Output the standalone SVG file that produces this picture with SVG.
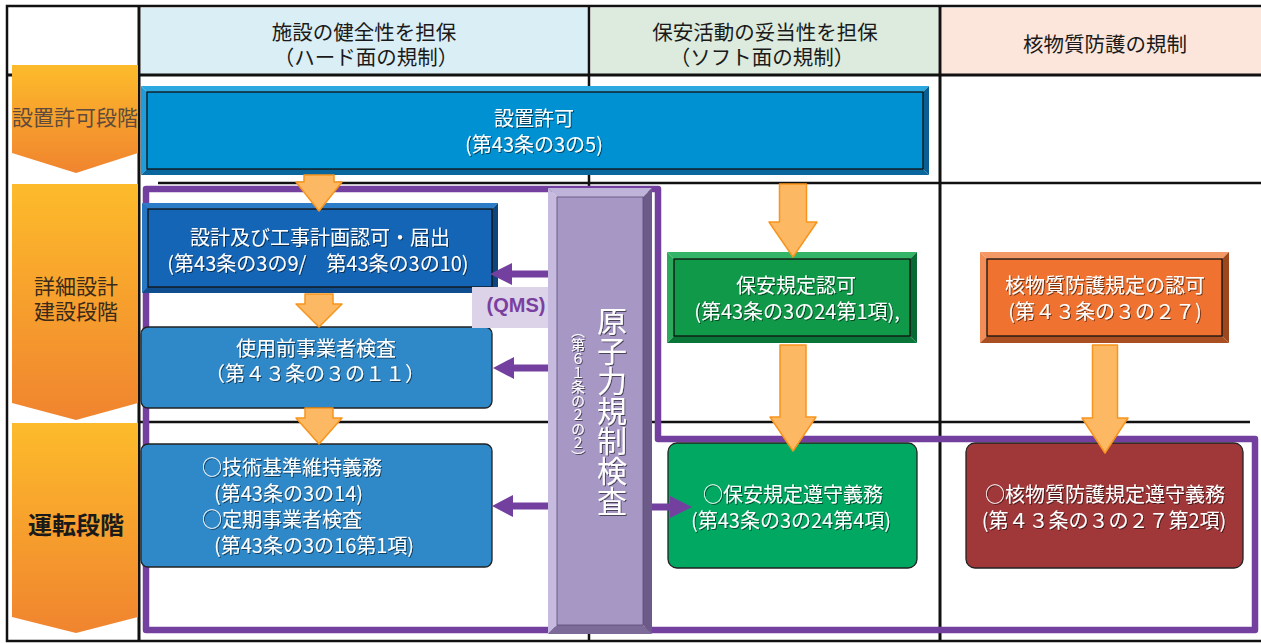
<svg xmlns="http://www.w3.org/2000/svg" width="1261" height="643" viewBox="0 0 1261 643">
<defs>
<style>
.t{font-family:"Noto Sans CJK JP","Noto Sans CJK SC",sans-serif;}
.hdr{font-size:20.5px;fill:#1a1a1a;text-anchor:middle;}
.bt{font-size:20px;fill:#ffffff;text-anchor:middle;filter:url(#sh);}
.btl{font-size:20px;fill:#ffffff;filter:url(#sh);}
.grid{stroke:#111;fill:none;}
.oarr{fill:#FDB863;stroke:#F7941D;stroke-width:1.5;stroke-linejoin:round;}
.parr{fill:#7440A0;}
.inner{stroke:#111;stroke-width:1.3;}
</style>
<linearGradient id="og" x1="0" y1="0" x2="0" y2="1">
<stop offset="0" stop-color="#FDBB2B"/>
<stop offset="1" stop-color="#F0842F"/>
</linearGradient>
<filter id="sh" x="-10%" y="-30%" width="120%" height="160%">
<feDropShadow dx="1" dy="1" stdDeviation="0.6" flood-color="#000" flood-opacity="0.55"/>
</filter>
</defs>
<rect x="0" y="0" width="1261" height="643" fill="#ffffff"/>

<g id="grid">
<rect x="141" y="8" width="447" height="66" fill="#DAEEF5"/>
<rect x="591" y="8" width="347" height="66" fill="#DCEBDD"/>
<rect x="942" y="8" width="319" height="66" fill="#FCE6DC"/>
<rect x="7" y="6" width="1260" height="635" class="grid" stroke-width="2.5"/>
<line x1="7" y1="75" x2="1261" y2="75" class="grid" stroke-width="3"/>
<line x1="139" y1="6" x2="139" y2="641" class="grid" stroke-width="3"/>
<line x1="589" y1="6" x2="589" y2="641" class="grid" stroke-width="2.5"/>
<line x1="940" y1="6" x2="940" y2="641" class="grid" stroke-width="3"/>
<line x1="158" y1="183" x2="1261" y2="183" class="grid" stroke-width="2.5"/>
<line x1="140" y1="422" x2="1250" y2="422" class="grid" stroke-width="2.5"/>
</g>

<g id="headers" class="t">
<text class="hdr"><tspan x="364" y="40">施設の健全性を担保</tspan><tspan x="366" y="65">（ハード面の規制）</tspan></text>
<text class="hdr"><tspan x="765" y="40">保安活動の妥当性を担保</tspan><tspan x="762" y="65">（ソフト面の規制）</tspan></text>
<text class="hdr" x="1105" y="52">核物質防護の規制</text>
</g>

<g id="purple-frame">
<path d="M146,189 H658 V439 H1255 V630 H146 Z" fill="none" stroke="#7440A0" stroke-width="6.5" stroke-linejoin="round"/>
</g>

<g id="stage-1">
<polygon points="12,65 138,65 138,153 76,173 12,153" fill="url(#og)"/>
<text class="t" x="75" y="125" font-size="21" fill="#5E4B3C" text-anchor="middle">設置許可段階</text>
</g>
<g id="stage-2">
<polygon points="12,184 138,184 138,403 76,420 12,403" fill="url(#og)"/>
<text class="t" font-size="21" fill="#3A2A1A" text-anchor="middle"><tspan x="76" y="294">詳細設計</tspan><tspan x="76" y="319">建設段階</tspan></text>
</g>
<g id="stage-3">
<polygon points="12,423 138,423 138,617 76,633 12,617" fill="url(#og)"/>
<text class="t" x="76" y="534" font-size="24" font-weight="bold" fill="#1a1a1a" text-anchor="middle">運転段階</text>
</g>

<g id="node-setchi">
<polygon points="141,86 929,86 923,92 147,92" fill="#2CA8E0"/>
<polygon points="141,86 147,92 147,169 141,175" fill="#1E9DDA"/>
<polygon points="929,86 929,175 923,169 923,92" fill="#0A5E91"/>
<polygon points="141,175 929,175 923,169 147,169" fill="#0A679E"/>
<rect x="147" y="92" width="776" height="77" fill="#0091D3" class="inner"/>
<text class="t bt"><tspan x="534" y="126">設置許可</tspan><tspan x="534" y="152">(第43条の3の5)</tspan></text>
</g>

<g id="node-sekkei">
<polygon points="142,203 498,203 492,209 148,209" fill="#2C7CC8"/>
<polygon points="142,203 148,209 148,287 142,293" fill="#2676C2"/>
<polygon points="498,203 498,293 492,287 492,209" fill="#0D457F"/>
<polygon points="142,293 498,293 492,287 148,287" fill="#0F4D8E"/>
<rect x="148" y="209" width="344" height="78" fill="#1565B6" class="inner"/>
<text class="t bt"><tspan x="320" y="245">設計及び工事計画認可・届出</tspan><tspan x="318" y="271">(第43条の3の9/　第43条の3の10)</tspan></text>
</g>

<g id="node-shiyomae">
<rect x="141" y="327" width="351" height="81" rx="7" fill="#2F89C9" stroke="#222" stroke-width="1.3"/>
<text class="t bt"><tspan x="316" y="356">使用前事業者検査</tspan><tspan x="315" y="381">（第４３条の３の１１）</tspan></text>
</g>

<g id="node-gijutsu">
<rect x="141" y="444" width="351" height="123" rx="7" fill="#2F89C9" stroke="#222" stroke-width="1.3"/>
<text class="t btl"><tspan x="202" y="475">○技術基準維持義務</tspan><tspan x="214" y="501">(第43条の3の14)</tspan><tspan x="202" y="527">○定期事業者検査</tspan><tspan x="214" y="553">(第43条の3の16第1項)</tspan></text>
</g>

<g id="node-hoan-ninka">
<polygon points="667,252 917,252 910,259 674,259" fill="#34B466"/>
<polygon points="667,252 674,259 674,336 667,343" fill="#2CA95C"/>
<polygon points="917,252 917,343 910,336 910,259" fill="#086A32"/>
<polygon points="667,343 917,343 910,336 674,336" fill="#0A7538"/>
<rect x="674" y="259" width="236" height="77" fill="#0F9949" class="inner"/>
<text class="t bt"><tspan x="796" y="293">保安規定認可</tspan><tspan x="797" y="319">(第43条の3の24第1項),</tspan></text>
</g>

<g id="node-kaku-ninka">
<polygon points="980,252 1229,252 1222,259 987,259" fill="#F49866"/>
<polygon points="980,252 987,259 987,336 980,343" fill="#F28D57"/>
<polygon points="1229,252 1229,343 1222,336 1222,259" fill="#9C471C"/>
<polygon points="980,343 1229,343 1222,336 987,336" fill="#A94F22"/>
<rect x="987" y="259" width="235" height="77" fill="#F07230" class="inner"/>
<text class="t bt"><tspan x="1105" y="293">核物質防護規定の認可</tspan><tspan x="1105" y="319">(第４３条の３の２７)</tspan></text>
</g>

<g id="node-hoan-junshu">
<rect x="668" y="443" width="249" height="125" rx="9" fill="#00A862" stroke="#222" stroke-width="1.3"/>
<text class="t bt"><tspan x="793" y="502">○保安規定遵守義務</tspan><tspan x="791" y="528">(第43条の3の24第4項)</tspan></text>
</g>

<g id="node-kaku-junshu">
<rect x="966" y="443" width="277" height="125" rx="9" fill="#A0383A" stroke="#222" stroke-width="1.3"/>
<text class="t bt"><tspan x="1105" y="502">○核物質防護規定遵守義務</tspan><tspan x="1104" y="528">(第４３条の３の２７第2項)</tspan></text>
</g>

<g id="qms">
<rect x="472" y="287" width="81" height="41" fill="#DCD3E8"/>
<text x="516" y="312" font-family="Liberation Sans, Noto Sans CJK JP, sans-serif" font-size="20" font-weight="bold" fill="#7A3FA0" text-anchor="middle">(QMS)</text>
</g>

<g id="connectors">
<polygon class="parr" points="553,270.5 512,270.5 512,263 490,274 512,285 512,277.5 553,277.5"/>
<polygon class="parr" points="553,364.5 514,364.5 514,357 493,368 514,379 514,371.5 553,371.5"/>
<polygon class="parr" points="553,502.5 513,502.5 513,495 492,506 513,517 513,509.5 553,509.5"/>
<polygon class="parr" points="648,503.5 670,503.5 670,496 692,507 670,518 670,510.5 648,510.5"/>
<polygon class="oarr" points="304,175 334,175 334,182 342,182 319,211 296,182 304,182"/>
<polygon class="oarr" points="305,294 333,294 333,304 342,304 319,327 296,304 305,304"/>
<polygon class="oarr" points="305,408 333,408 333,418 342,418 319,444 296,418 305,418"/>
<polygon class="oarr" points="779.5,184 806.5,184 806.5,222 817,222 793,257 769,222 779.5,222"/>
<polygon class="oarr" points="780,345 806,345 806,417 816,417 793,451 770,417 780,417"/>
<polygon class="oarr" points="1092.5,345 1117.5,345 1117.5,418 1128,418 1105,453 1082,418 1092.5,418"/>
</g>

<g id="node-kensa">
<polygon points="548,188 652,188 643,197 557,197" fill="#C0B3D9"/>
<polygon points="548,188 557,197 557,625 548,634" fill="#C6BADE"/>
<polygon points="652,188 652,634 643,625 643,197" fill="#6C5B89"/>
<polygon points="548,634 652,634 643,625 557,625" fill="#7C6B98"/>
<rect x="557" y="197" width="86" height="428" fill="#A697C5" stroke="#5d4d78" stroke-width="0.8"/>
<text class="t" x="612" y="411" font-size="30" fill="#fff" text-anchor="middle" style="writing-mode:vertical-rl;filter:url(#sh)">原子力規制検査</text>
<text class="t" x="578" y="394" font-size="14" fill="#fff" text-anchor="middle" style="writing-mode:vertical-rl;filter:url(#sh)">（第６１条の２の２）</text>
</g>
</svg>
